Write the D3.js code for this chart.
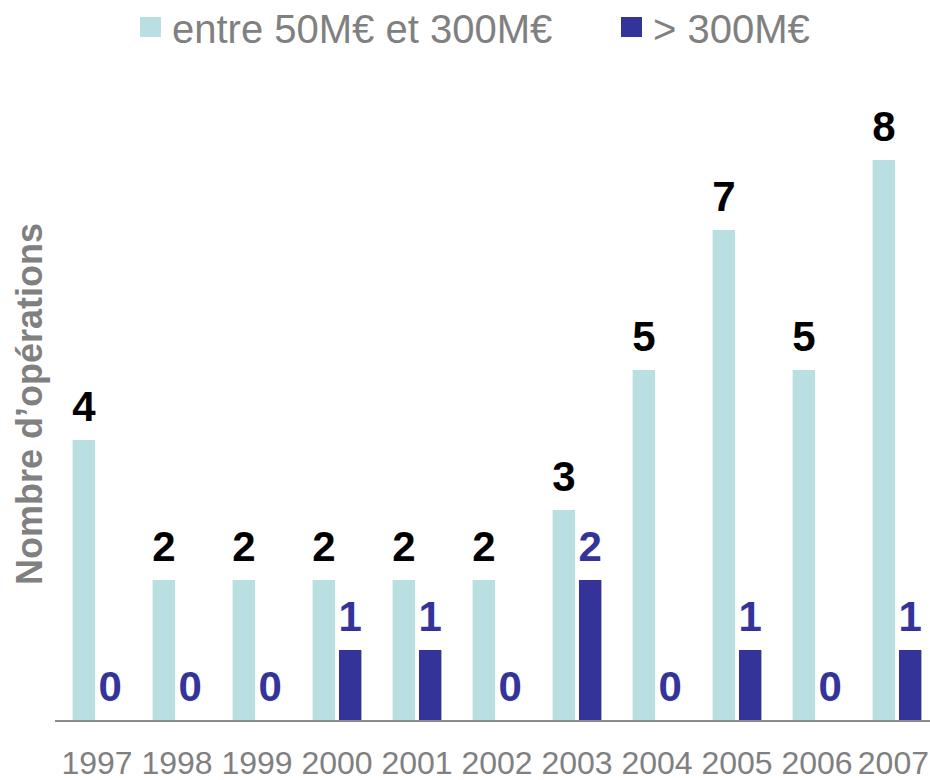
<!DOCTYPE html>
<html>
<head>
<meta charset="utf-8">
<script src="https://cdn.jsdelivr.net/npm/d3@7"></script>
<style>
    body { margin: 0; background: #fff; }
    text { font-family: "Liberation Sans", Arial, sans-serif; }
</style>
</head>
<body>
<script>
//chart data
var years = ["1997", "1998", "1999", "2000", "2001", "2002", "2003", "2004", "2005", "2006", "2007"];
var midDeals = [4, 2, 2, 2, 2, 2, 3, 5, 7, 5, 8];     //entre 50M€ et 300M€
var bigDeals = [0, 0, 0, 1, 1, 0, 2, 0, 1, 0, 1];     //> 300M€
var seriesNames = ["entre 50M€ et 300M€", "> 300M€"];
var yTitle = "Nombre d’opérations";

window.onload = drawChart();

function drawChart(){

    //frame dimensions
    var width = 930,
        height = 780;

    var colors = ["#b9dfe2", "#333399"],
        labelColors = ["#000000", "#333399"],
        gray = "#808080";

    var svg = d3.select("body")
        .append("svg")
        .attr("width", width)
        .attr("height", height);

    //rows for each year
    var rows = years.map(function(y, i){
        return {year: y, values: [midDeals[i], bigDeals[i]]};
    });

    //outer band per year, inner band per series
    var x = d3.scaleBand()
        .domain(years)
        .range([57, 937])
        .paddingInner(0.39)
        .paddingOuter(0.195);

    var xInner = d3.scaleBand()
        .domain([0, 1])
        .range([0, x.bandwidth()])
        .paddingInner(0.15);

    var y = d3.scaleLinear()
        .domain([0, 8])
        .range([720, 160]);

    //bars
    var groups = svg.selectAll(".year")
        .data(rows)
        .enter()
        .append("g")
        .attr("class", "year")
        .attr("transform", function(d){ return "translate(" + x(d.year) + ",0)"; });

    groups.selectAll("rect")
        .data(function(d){ return d.values.map(function(v, k){ return {k: k, v: v}; }); })
        .enter()
        .append("rect")
        .attr("x", function(d){ return xInner(d.k); })
        .attr("width", xInner.bandwidth())
        .attr("y", function(d){ return y(d.v); })
        .attr("height", function(d){ return y(0) - y(d.v); })
        .attr("fill", function(d){ return colors[d.k]; });

    //value labels above bars
    groups.selectAll(".val")
        .data(function(d){ return d.values.map(function(v, k){ return {k: k, v: v}; }); })
        .enter()
        .append("text")
        .attr("class", "val")
        .attr("x", function(d){ return xInner(d.k) + xInner.bandwidth() / 2; })
        .attr("y", function(d){ return y(d.v) - 19; })
        .attr("text-anchor", "middle")
        .style("font-size", "42px")
        .style("font-weight", "bold")
        .attr("fill", function(d){ return labelColors[d.k]; })
        .text(function(d){ return d.v; });

    //x axis: baseline and year labels
    var xAxis = d3.axisBottom(x).tickSize(0).tickPadding(0);
    var axisG = svg.append("g")
        .attr("transform", "translate(0,720)")
        .call(xAxis);
    axisG.select(".domain").remove();
    axisG.selectAll("text")
        .attr("y", 54)
        .attr("dy", null)
        .style("font-size", "32px")
        .attr("fill", gray);

    //keep the last year label inside the frame
    var lastYear = years[years.length - 1];
    axisG.selectAll(".tick")
        .filter(function(d){ return d === lastYear; })
        .select("text")
        .attr("text-anchor", "end")
        .attr("x", width - 1 - (x(lastYear) + x.bandwidth() / 2));

    svg.append("line")
        .attr("x1", 55)
        .attr("x2", 930)
        .attr("y1", y(0) + 1)
        .attr("y2", y(0) + 1)
        .attr("stroke", "#8c8c8c")
        .attr("stroke-width", 2);

    //y axis title
    svg.append("text")
        .attr("transform", "translate(42,404) rotate(-90)")
        .attr("text-anchor", "middle")
        .style("font-size", "36px")
        .style("font-weight", "bold")
        .attr("fill", gray)
        .text(yTitle);

    //legend
    var legendX = [140, 621];
    var legend = svg.selectAll(".legend")
        .data(seriesNames)
        .enter()
        .append("g")
        .attr("class", "legend")
        .attr("transform", function(d, i){ return "translate(" + legendX[i] + ",0)"; });

    legend.append("rect")
        .attr("x", 0)
        .attr("y", 17)
        .attr("width", 21)
        .attr("height", 20)
        .attr("fill", function(d, i){ return colors[i]; });

    legend.append("text")
        .attr("x", 32)
        .attr("y", 43)
        .style("font-size", "40px")
        .attr("fill", gray)
        .text(function(d){ return d; });
};
</script>
</body>
</html>
